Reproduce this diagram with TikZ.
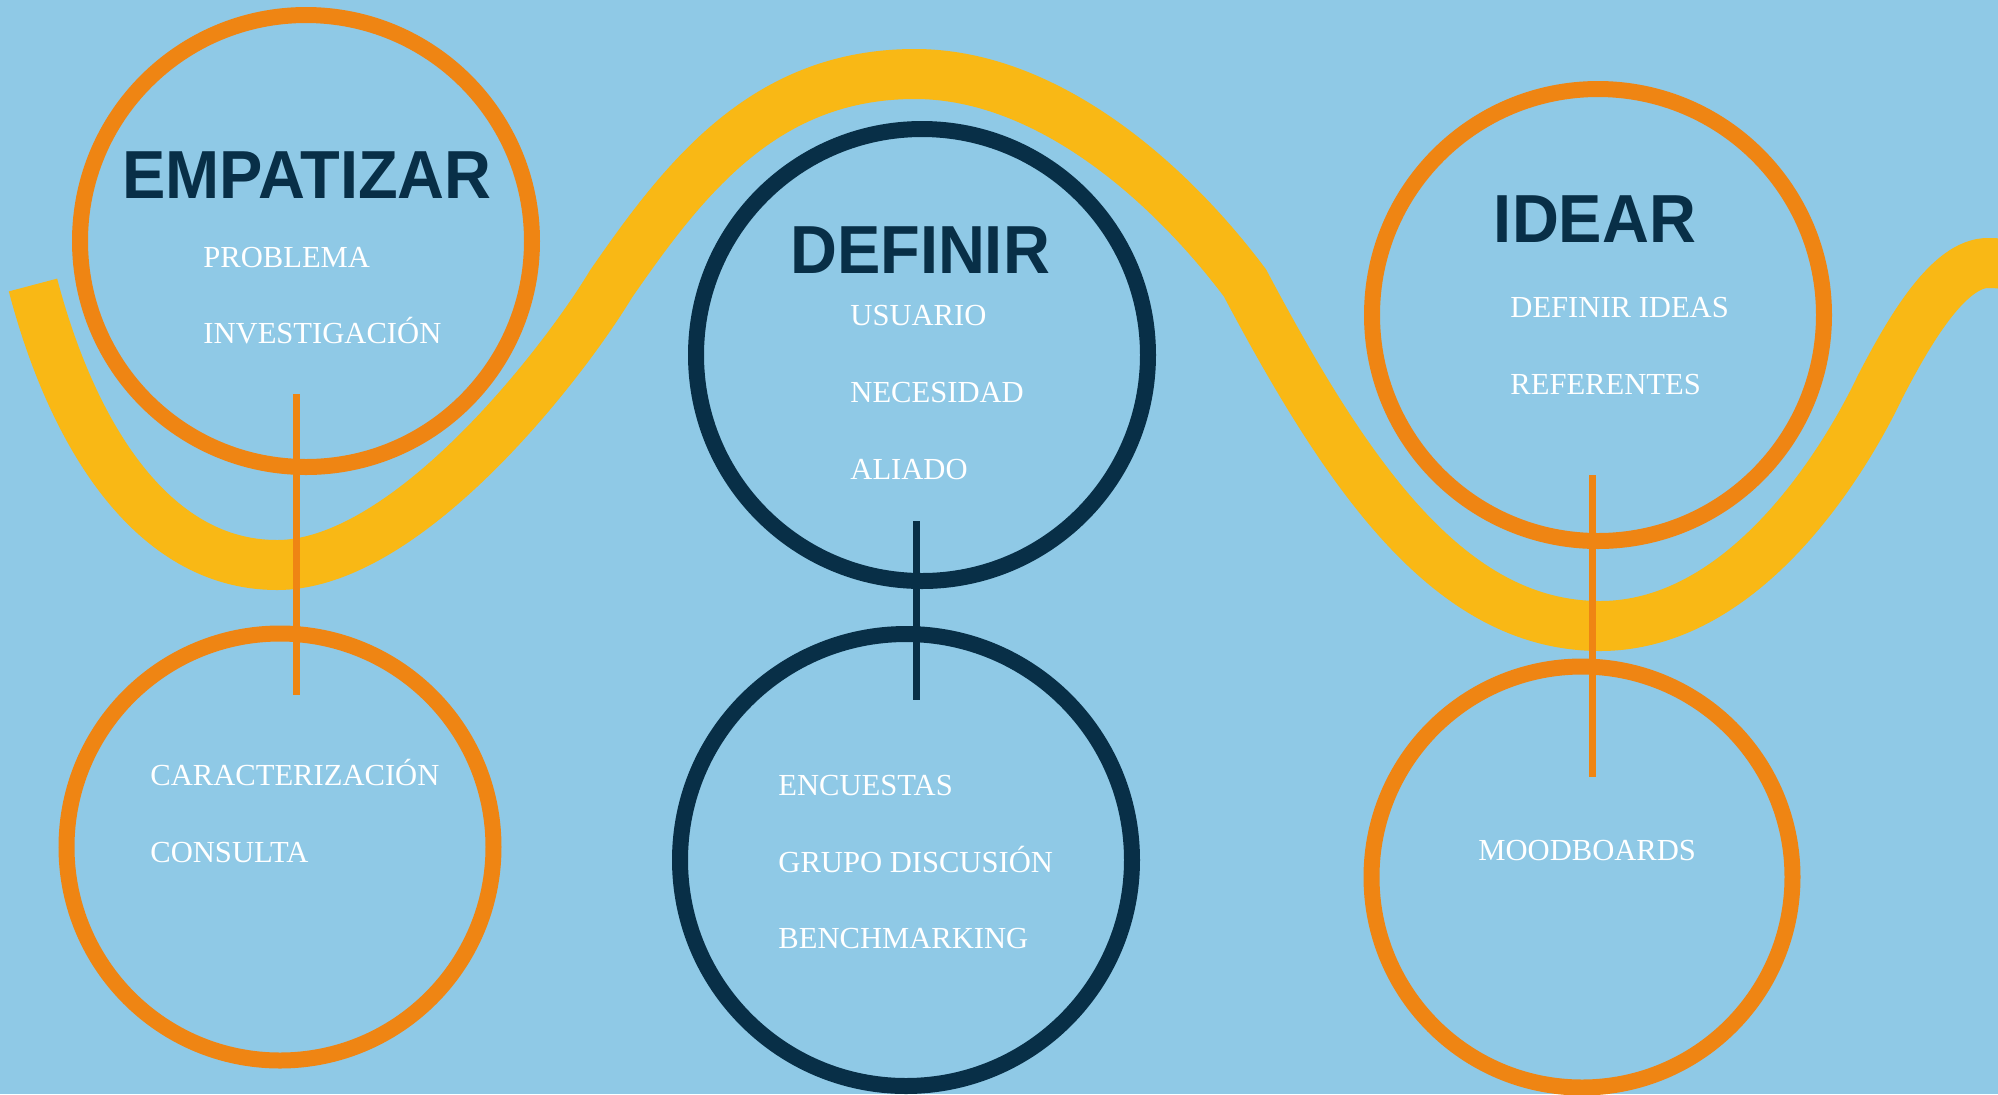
\documentclass[tikz,border=0pt]{standalone}
\usepackage{fontspec}
\setmainfont{Liberation Serif}
\newfontfamily\titlefont[FakeStretch=0.955]{Liberation Sans}
\definecolor{bg}{HTML}{8FC9E6}
\definecolor{orng}{HTML}{EF8513}
\definecolor{yell}{HTML}{F9B815}
\definecolor{navy}{HTML}{082F47}
\begin{document}
\begin{tikzpicture}[x=0.5pt,y=-0.5pt,
  ring/.style={circle, draw, line width=8pt, inner sep=0pt, minimum size=#1},
  titletext/.style={font=\titlefont\bfseries\fontsize{34}{34}\selectfont, text=navy, inner sep=0pt, anchor=base},
  item/.style={font=\fontsize{15.3}{15.3}\selectfont, text=white, inner sep=0pt, anchor=base west},
  stem/.style={line width=3.5pt}]
\useasboundingbox (0,0) rectangle (1998,1094);
\fill[bg] (0,0) rectangle (1998,1094);
\begin{scope}
\clip (0,0) rectangle (1998,1094);
\draw[yell, line width=25pt] (33,285) .. controls (71,430) and (150,565) .. (277,565)
  .. controls (407,565) and (562,365) .. (611,284)
  .. controls (685,177) and (765,74) .. (915,74)
  .. controls (1045,74) and (1167,179) .. (1245,283)
  .. controls (1348,477) and (1450,626) .. (1600,626)
  .. controls (1750,626) and (1850,450) .. (1880,387)
  .. controls (1912,325) and (1950,263) .. (1988,263)
  .. controls (2010,263) and (2025,268) .. (2045,278);

% rings
\node[ring=226pt, draw=orng] (c1) at (306,241) {};
\node[ring=226pt, draw=navy] (c2) at (922,355) {};
\node[ring=226pt, draw=orng] (c3) at (1598,315) {};
\node[ring=213.5pt, draw=orng] (c4) at (280,847) {};
\node[ring=226pt, draw=navy] (c5) at (906,860) {};
\node[ring=210.5pt, draw=orng] (c6) at (1582,877) {};

% stems
\coordinate (s1t) at (296,394);
\coordinate (s1b) at (296,695);
\coordinate (s2t) at (916,521);
\coordinate (s2b) at (916,700);
\coordinate (s3t) at (1592,475);
\coordinate (s3b) at (1592,777);
\draw[stem, orng] (s1t) -- (s1b);
\draw[stem, navy] (s2t) -- (s2b);
\draw[stem, orng] (s3t) -- (s3b);
\end{scope}

% titles
\node[titletext] (t1) at (307,198) {EMPATIZAR};
\node[titletext] (t2) at (920,273) {DEFINIR};
\node[titletext] (t3) at (1595,242) {IDEAR};

% items
\node[item] (a1) at (203,267) {PROBLEMA};
\node[item] (a2) at (203,343) {INVESTIGACIÓN};
\node[item] (b1) at (850,325) {USUARIO};
\node[item] (b2) at (850,402) {NECESIDAD};
\node[item] (b3) at (850,479) {ALIADO};
\node[item] (d1) at (1510,317) {DEFINIR IDEAS};
\node[item] (d2) at (1510,394) {REFERENTES};
\node[item] (e1) at (150,785) {CARACTERIZACIÓN};
\node[item] (e2) at (150,862) {CONSULTA};
\node[item] (f1) at (778,795) {ENCUESTAS};
\node[item] (f2) at (778,872) {GRUPO DISCUSIÓN};
\node[item] (f3) at (778,948) {BENCHMARKING};
\node[item] (g1) at (1478,860) {MOODBOARDS};
\end{tikzpicture}
\end{document}
